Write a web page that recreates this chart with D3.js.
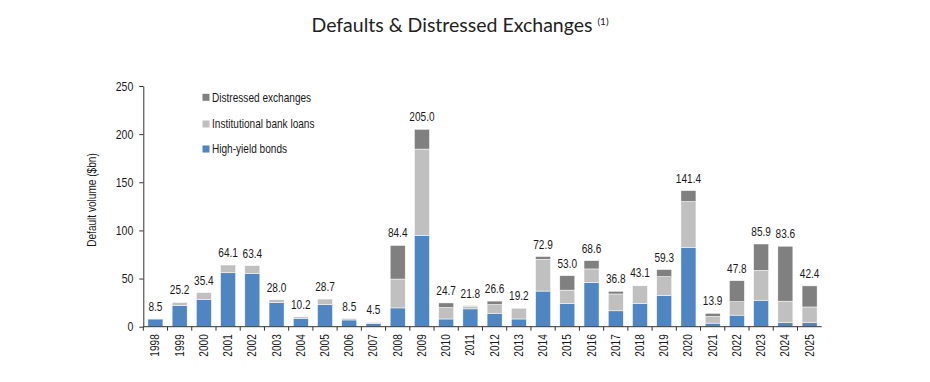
<!DOCTYPE html>
<html>
<head>
<meta charset="utf-8">
<script src="https://cdn.jsdelivr.net/npm/d3@7"></script>
<style>
  html, body { margin: 0; padding: 0; background: #fff; }
  svg { display: block; }
  .arial { font-family: "Liberation Sans", Arial, sans-serif; fill: #1a1a1a; }
</style>
</head>
<body>
<svg id="chart" width="930" height="382"></svg>
<script>
const years = ["1998","1999","2000","2001","2002","2003","2004","2005","2006","2007","2008","2009","2010","2011","2012","2013","2014","2015","2016","2017","2018","2019","2020","2021","2022","2023","2024","2025"];
const highYieldBonds = [8.0,22.0,28.0,56.0,55.5,25.0,8.8,23.0,7.0,3.3,19.5,94.5,8.0,18.5,14.0,8.0,37.0,24.0,46.0,16.5,24.0,32.5,82.0,3.7,12.0,27.5,4.5,4.5];
const bankLoans      = [0.5,3.2,7.4,8.1,7.9,3.0,1.4,5.7,1.5,1.2,30.0,90.0,12.0,2.8,9.0,11.2,33.0,14.0,14.0,17.5,18.5,19.5,48.0,7.0,14.0,31.0,22.0,16.0];
const distressedEx   = [0,0,0,0,0,0,0,0,0,0,34.9,20.5,4.7,0.5,3.6,0,2.9,15.0,8.6,2.8,0.6,7.3,11.4,3.2,21.8,27.4,57.1,21.9];
const totalLabels    = ["8.5","25.2","35.4","64.1","63.4","28.0","10.2","28.7","8.5","4.5","84.4","205.0","24.7","21.8","26.6","19.2","72.9","53.0","68.6","36.8","43.1","59.3","141.4","13.9","47.8","85.9","83.6","42.4"];
const yTicks = [0,50,100,150,200,250];
const seriesNames = ["High-yield bonds","Institutional bank loans","Distressed exchanges"];
const seriesColors = ["#4f86c2","#c0c0c0","#808080"];

const SX = 0.84; // horizontal condensation of the Arial-like labels
const svg = d3.select("#chart");
const margin = {left: 143.3, right: 930 - 821.7};
const x = d3.scaleBand().domain(years).range([margin.left, 930 - margin.right]).paddingInner(0.38).paddingOuter(0.19);
const y = d3.scaleLinear().domain([0,250]).range([326.7, 86]);

const rows = years.map((yr,i) => ({year: yr, hy: highYieldBonds[i], bl: bankLoans[i], de: distressedEx[i], label: totalLabels[i]}));
const series = d3.stack().keys(["hy","bl","de"])(rows);

// Title
const title = svg.append("text")
  .attr("x", 460).attr("y", 31.5)
  .attr("text-anchor", "middle")
  .style("font-family", "Lato, 'Open Sans', sans-serif")
  .style("font-size", "19.5px")
  .style("fill", "#222");
title.append("tspan").text("Defaults & Distressed Exchanges ");
title.append("tspan").text("(1)").style("font-size", "10px").attr("dy", -7);

// Bars
svg.append("g").selectAll("g").data(series).join("g")
  .attr("fill", (d,i) => seriesColors[i])
  .selectAll("rect").data(d => d).join("rect")
  .attr("x", d => x(d.data.year))
  .attr("width", x.bandwidth())
  .attr("y", d => y(d[1]))
  .attr("height", d => Math.max(0, y(d[0]) - y(d[1])))
  .attr("stroke", "#ffffff").attr("stroke-width", 0.5);

// Value labels
svg.append("g").selectAll("g").data(rows).join("g")
  .attr("transform", d => `translate(${x(d.year) + x.bandwidth()/2},${y(d.hy + d.bl + d.de) - 8}) scale(${SX},1)`)
  .append("text").attr("class", "arial")
  .attr("text-anchor", "middle")
  .style("font-size", "12px")
  .text(d => d.label);

// Y axis
const yAxis = svg.append("g").attr("transform", `translate(${margin.left},0)`)
  .call(d3.axisLeft(y).tickValues(yTicks).tickSize(4).tickSizeOuter(0));
yAxis.select(".domain").attr("stroke", "#333");
yAxis.selectAll(".tick line").attr("stroke", "#333");
yAxis.selectAll(".tick text").remove();
yAxis.selectAll(".tick").append("g")
  .attr("transform", `translate(-10,4) scale(${SX},1)`)
  .append("text").attr("class", "arial")
  .attr("text-anchor", "end")
  .style("font-size", "12.5px")
  .text(d => d);

// X axis with ticks at band boundaries
const xAxisG = svg.append("g").attr("transform", `translate(0,${y(0)})`);
xAxisG.append("line").attr("x1", margin.left).attr("x2", 930 - margin.right).attr("y1", 0).attr("y2", 0).attr("stroke", "#333");
const step = x.step();
const boundaries = years.map(yr => x(yr) - step * 0.19);
xAxisG.selectAll("line.tk").data(boundaries).join("line").attr("class","tk")
  .attr("x1", d => d).attr("x2", d => d).attr("y1", 0).attr("y2", 4).attr("stroke", "#333");
xAxisG.selectAll("g.yl").data(years).join("g").attr("class","yl")
  .attr("transform", d => `translate(${x(d) + x.bandwidth()/2 + 4},7.5) rotate(-90) scale(${SX},1)`)
  .append("text").attr("class", "arial")
  .attr("text-anchor", "end")
  .style("font-size", "12px")
  .text(d => d);

// Y axis title
svg.append("g").attr("transform", `translate(96,200) rotate(-90) scale(${SX},1)`)
  .append("text").attr("class", "arial")
  .attr("text-anchor", "middle")
  .style("font-size", "12px")
  .text("Default volume ($bn)");

// Legend
const legendOrder = [2,1,0];
const legendY = [97.3, 124, 149];
const lg = svg.append("g").selectAll("g").data(legendOrder).join("g")
  .attr("transform", (d,i) => `translate(202.5,${legendY[i]})`);
lg.append("rect").attr("x", 0).attr("y", -3.5).attr("width", 7).attr("height", 7).attr("fill", d => seriesColors[d]);
lg.append("g").attr("transform", `translate(9.5,4.2) scale(${SX},1)`)
  .append("text").attr("class", "arial")
  .style("font-size", "12px")
  .text(d => seriesNames[d]);
</script>
</body>
</html>
